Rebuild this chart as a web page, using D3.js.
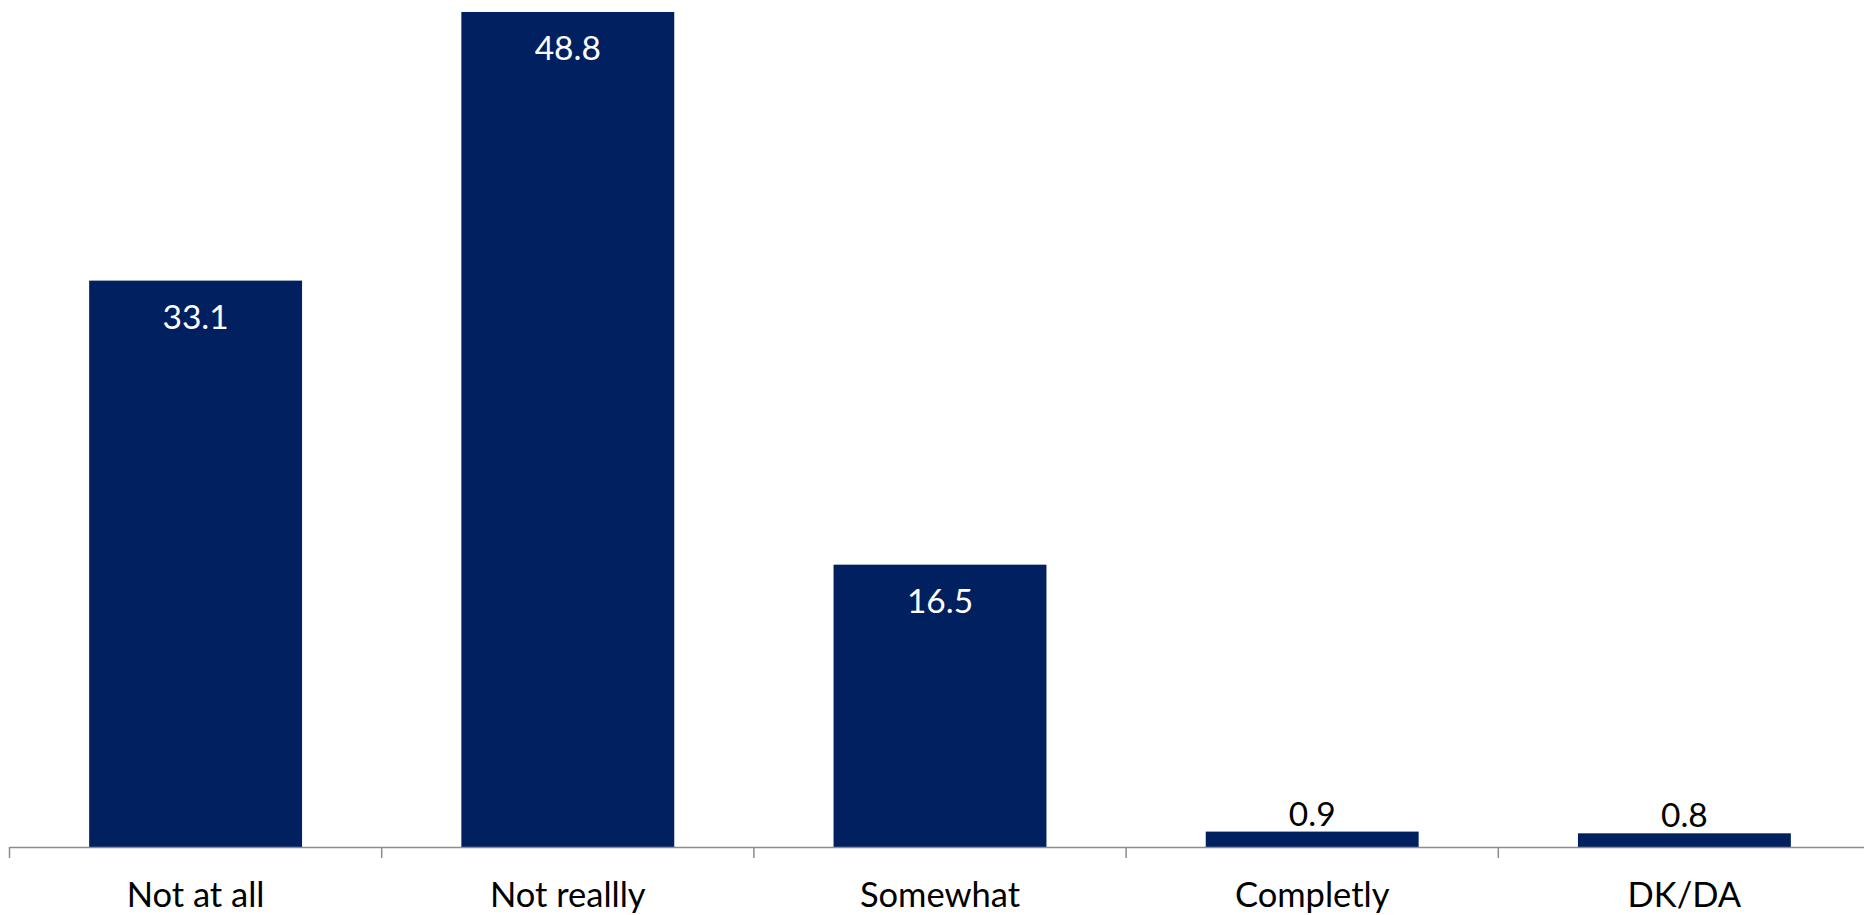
<!DOCTYPE html>
<html>
<head>
<meta charset="utf-8">
<script src="https://cdn.jsdelivr.net/npm/d3@7"></script>
<style>
  html, body { margin: 0; padding: 0; background: #ffffff; }
  svg { display: block; }
  text { font-family: Lato, "Liberation Sans", sans-serif; }
</style>
</head>
<body>
<svg id="chart" width="1864" height="915"></svg>
<script>
const categories = ["Not at all", "Not reallly", "Somewhat", "Completly", "DK/DA"];
const values = [33.1, 48.8, 16.5, 0.9, 0.8];
const valueLabels = ["33.1", "48.8", "16.5", "0.9", "0.8"];

const W = 1864, H = 915;
const svg = d3.select("#chart");

const baseY = 847;
const x0 = 9.5, step = 372.2;
const x = d3.scaleBand()
  .domain(categories)
  .range([x0, x0 + step * categories.length])
  .paddingInner(0.428)
  .paddingOuter(0.214);

const y = d3.scaleLinear().domain([0, 49.5]).range([baseY, 0]);

const data = categories.map((c, i) => ({ c, v: values[i], label: valueLabels[i] }));

// bars
svg.append("g").selectAll("rect").data(data).enter().append("rect")
  .attr("x", d => x(d.c))
  .attr("y", d => y(d.v))
  .attr("width", x.bandwidth())
  .attr("height", d => baseY - y(d.v))
  .attr("fill", "#002060");

// axis
const axis = svg.append("g");
axis.append("line")
  .attr("x1", x0).attr("x2", W)
  .attr("y1", baseY + 0.5).attr("y2", baseY + 0.5)
  .attr("stroke", "#8c8c8c").attr("stroke-width", 1.5);
const boundaries = d3.range(categories.length + 1).map(i => x0 + x.step() * i);
axis.selectAll("line.tick").data(boundaries).enter().append("line")
  .attr("class", "tick")
  .attr("x1", d => d).attr("x2", d => d)
  .attr("y1", baseY).attr("y2", baseY + 11)
  .attr("stroke", "#8c8c8c").attr("stroke-width", 1.5);

// category labels
svg.append("g").selectAll("text").data(data).enter().append("text")
  .attr("x", d => x(d.c) + x.bandwidth() / 2)
  .attr("y", 907)
  .attr("text-anchor", "middle")
  .attr("font-size", 34.5)
  .attr("fill", "#000000")
  .text(d => d.c);

// value labels
svg.append("g").selectAll("text").data(data).enter().append("text")
  .attr("x", d => x(d.c) + x.bandwidth() / 2)
  .attr("y", d => {
    const h = baseY - y(d.v);
    return h > 60 ? y(d.v) + 48 : y(d.v) - 6;
  })
  .attr("text-anchor", "middle")
  .attr("font-size", 33.5)
  .attr("fill", d => (baseY - y(d.v)) > 60 ? "#ffffff" : "#000000")
  .text(d => d.label);
</script>
</body>
</html>
